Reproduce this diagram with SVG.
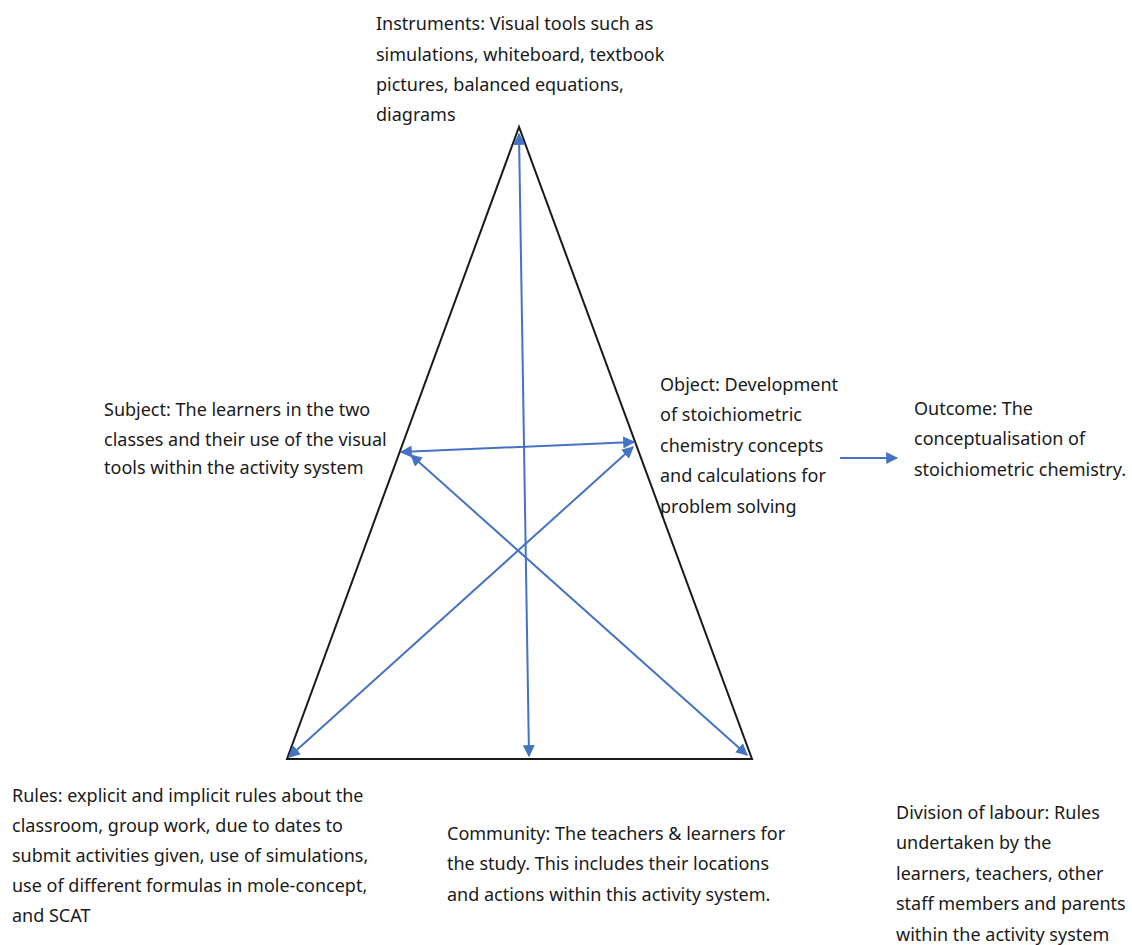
<svg xmlns="http://www.w3.org/2000/svg" width="1132" height="945" viewBox="0 0 1132 945">
  <style>
    text { font-family: "Noto Sans", "Liberation Sans", sans-serif; font-size: 18px; fill: #1a1a1a; }
    .tri { fill: none; stroke: #1a1a1a; stroke-width: 2; stroke-linejoin: miter; }
    .link { stroke: #4472c4; stroke-width: 2; fill: none; }
  </style>
  <defs>
    <marker id="head" viewBox="0 0 10 10" refX="9" refY="5" markerWidth="6" markerHeight="6" markerUnits="strokeWidth" orient="auto-start-reverse">
      <path d="M0,0 L10,5 L0,10 z" fill="#4472c4"/>
    </marker>
  </defs>

  <!-- activity triangle -->
  <g id="triangle">
    <polygon class="tri" points="519,127 287,759 752,759"/>
  </g>

  <!-- connectors between the triangle's corners and sides -->
  <g id="connectors">
    <line class="link" x1="519" y1="134" x2="529" y2="756" marker-start="url(#head)" marker-end="url(#head)"/>
    <line class="link" x1="401" y1="452" x2="634" y2="442" marker-start="url(#head)" marker-end="url(#head)"/>
    <line class="link" x1="289" y1="757" x2="633" y2="447" marker-start="url(#head)" marker-end="url(#head)"/>
    <line class="link" x1="747" y1="755" x2="411" y2="455" marker-start="url(#head)" marker-end="url(#head)"/>
    <line class="link" x1="840" y1="458" x2="897" y2="458" marker-end="url(#head)"/>
  </g>

  <g id="instruments">
    <text x="376" y="30">Instruments: Visual tools such as</text>
    <text x="376" y="61">simulations, whiteboard, textbook</text>
    <text x="376" y="91">pictures, balanced equations,</text>
    <text x="376" y="121">diagrams</text>
  </g>

  <g id="subject">
    <text x="104" y="416">Subject: The learners in the two</text>
    <text x="104" y="446">classes and their use of the visual</text>
    <text x="104" y="474">tools within the activity system</text>
  </g>

  <g id="object">
    <text x="660" y="391">Object: Development</text>
    <text x="660" y="421">of stoichiometric</text>
    <text x="660" y="452">chemistry concepts</text>
    <text x="660" y="482">and calculations for</text>
    <text x="660" y="513">problem solving</text>
  </g>

  <g id="outcome">
    <text x="914" y="415">Outcome: The</text>
    <text x="914" y="445">conceptualisation of</text>
    <text x="914" y="476">stoichiometric chemistry.</text>
  </g>

  <g id="rules">
    <text x="12" y="802">Rules: explicit and implicit rules about the</text>
    <text x="12" y="832">classroom, group work, due to dates to</text>
    <text x="12" y="862">submit activities given, use of simulations,</text>
    <text x="12" y="892">use of different formulas in mole-concept,</text>
    <text x="12" y="922">and SCAT</text>
  </g>

  <g id="community">
    <text x="447" y="840">Community: The teachers &amp; learners for</text>
    <text x="447" y="870">the study. This includes their locations</text>
    <text x="447" y="901">and actions within this activity system.</text>
  </g>

  <g id="division">
    <text x="896" y="819">Division of labour: Rules</text>
    <text x="896" y="849">undertaken by the</text>
    <text x="896" y="880">learners, teachers, other</text>
    <text x="896" y="910">staff members and parents</text>
    <text x="896" y="941">within the activity system</text>
  </g>
</svg>
